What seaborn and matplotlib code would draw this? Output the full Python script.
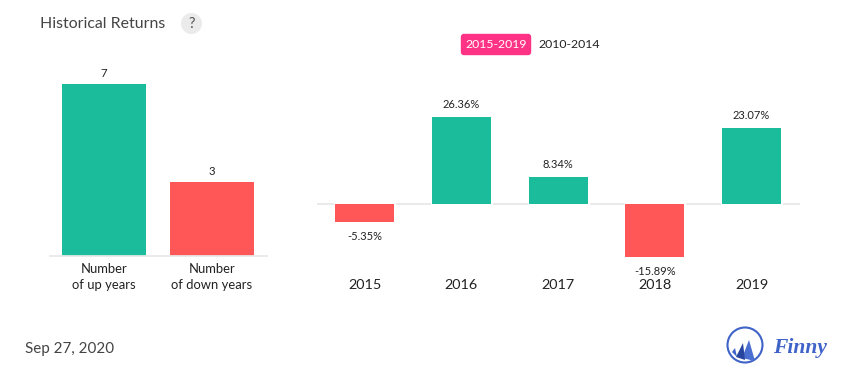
import numpy as np
import pandas as pd
import seaborn as sns
import matplotlib
matplotlib.use('Agg')
import matplotlib.pyplot as plt
import matplotlib.patheffects as pe
from matplotlib.patches import Circle, Polygon, FancyBboxPatch

count_labels = ['Number\nof up years', 'Number\nof down years']
count_values = [7, 3]
count_kinds = ['up', 'down']

years = ['2015', '2016', '2017', '2018', '2019']
returns = [-5.35, 26.36, 8.34, -15.89, 23.07]
return_labels = ['-5.35%', '26.36%', '8.34%', '-15.89%', '23.07%']
return_kinds = ['down', 'up', 'up', 'down', 'up']

colors = {'up': '#1abc9c', 'down': '#ff5757'}
W, H = 855, 382

sns.set_style('white')
plt.rcParams['font.family'] = ['Lato', 'DejaVu Sans']


def box(x0, x1, top, bottom):
    # pixel box to figure fraction
    return [x0 / W, 1 - bottom / H, (x1 - x0) / W, (bottom - top) / H]


fig = plt.figure(figsize=(W / 100, H / 100), dpi=100)

# left chart
ax1 = fig.add_axes(box(50, 267, 60.6, 255.6))
df1 = pd.DataFrame({'label': count_labels, 'value': count_values, 'kind': count_kinds})
sns.barplot(data=df1, x='label', y='value', hue='kind', palette=colors, dodge=False,
            width=0.778, legend=False, saturation=1, linewidth=0, ax=ax1)
ax1.set_xlim(-0.5, 1.509)
ax1.set_ylim(0, 195 / 24.57)
for i, v in enumerate(count_values):
    ax1.annotate(str(v), (i, v), xytext=(0, 3.2), textcoords='offset points',
                 ha='center', va='bottom', fontsize=8.2, color='#222222')

# right chart
ax2 = fig.add_axes(box(317, 800, 60.4, 275.4))
df2 = pd.DataFrame({'year': years, 'value': returns, 'kind': return_kinds})
ax2.axhline(0, color='#e8e8e8', lw=1.3, zorder=0)
sns.barplot(data=df2, x='year', y='value', hue='kind', palette=colors, dodge=False,
            width=0.61, legend=False, saturation=1, linewidth=0, ax=ax2, zorder=2)
# small white gap where the bars meet the zero line
for p in ax2.patches:
    p.set_path_effects([pe.Stroke(linewidth=2.2, foreground='white'), pe.Normal()])
ax2.set_xlim(-0.491, 4.5)
ax2.set_ylim(-71 / 3.3, 144 / 3.3)
for i, v in enumerate(returns):
    off = 5 if v > 0 else -6.6
    ax2.annotate(return_labels[i], (i, v), xytext=(0, off), textcoords='offset points',
                 ha='center', va='bottom' if v > 0 else 'top', fontsize=8, color='#222222')

for ax in [ax1, ax2]:
    ax.set_xlabel('')
    ax.set_ylabel('')
    ax.set_yticks([])
    ax.tick_params(axis='x', length=0, colors='#222222')
    sns.despine(ax=ax, left=True, top=True, right=True, bottom=True)
ax1.spines['bottom'].set_visible(True)
ax1.spines['bottom'].set_color('#e8e8e8')
ax1.spines['bottom'].set_linewidth(1.3)
ax1.tick_params(axis='x', labelsize=9.4, pad=5.2)
ax2.tick_params(axis='x', labelsize=10.4, pad=2.8)
for t in ax1.get_xticklabels():
    t.set_linespacing(1.42)

# overlay for header, footer, logo, in pixel coordinates
ov = fig.add_axes([0, 0, 1, 1], zorder=5)
ov.set_xlim(0, W)
ov.set_ylim(H, 0)
ov.axis('off')
ov.patch.set_alpha(0)

ov.text(40, 23.5, 'Historical Returns', fontsize=11.4, color='#444444', va='center')
ov.add_patch(Circle((191.5, 23.5), 10.5, color='#ebebeb', lw=0))
ov.text(191.5, 23.5, '?', fontsize=10.5, color='#555555', ha='center', va='center')

ov.add_patch(FancyBboxPatch((461.5, 34.5), 69, 20, boxstyle='round,pad=0,rounding_size=2.5',
                            fc='#ff3385', ec='#ff3385', lw=1))
ov.text(496, 44.7, '2015-2019', fontsize=8.8, color='white', ha='center', va='center')
ov.text(569.5, 44.7, '2010-2014', fontsize=8.8, color='#222222', ha='center', va='center')

ov.text(25, 348.6, 'Sep 27, 2020', fontsize=10.9, color='#444444', va='center')

# logo
logo = '#3f63c8'
ov.add_patch(Circle((745, 345), 17.5, fc='none', ec=logo, lw=1.5))
ov.add_patch(Polygon([[749, 340], [755, 361], [742, 358]], closed=True, fc='#4a6fd0', lw=0))
ov.add_patch(Polygon([[743, 343], [745, 360], [736, 357]], closed=True, fc='#27459f', lw=0))
ov.add_patch(Polygon([[735, 348], [737, 357], [732, 352]], closed=True, fc='#3f63c8', lw=0))
ov.text(773, 348, 'Finny', fontsize=15.5, color=logo, style='italic', fontweight='bold',
        va='center', family='Liberation Serif')

fig.savefig('out.png', dpi=100, facecolor='white')
